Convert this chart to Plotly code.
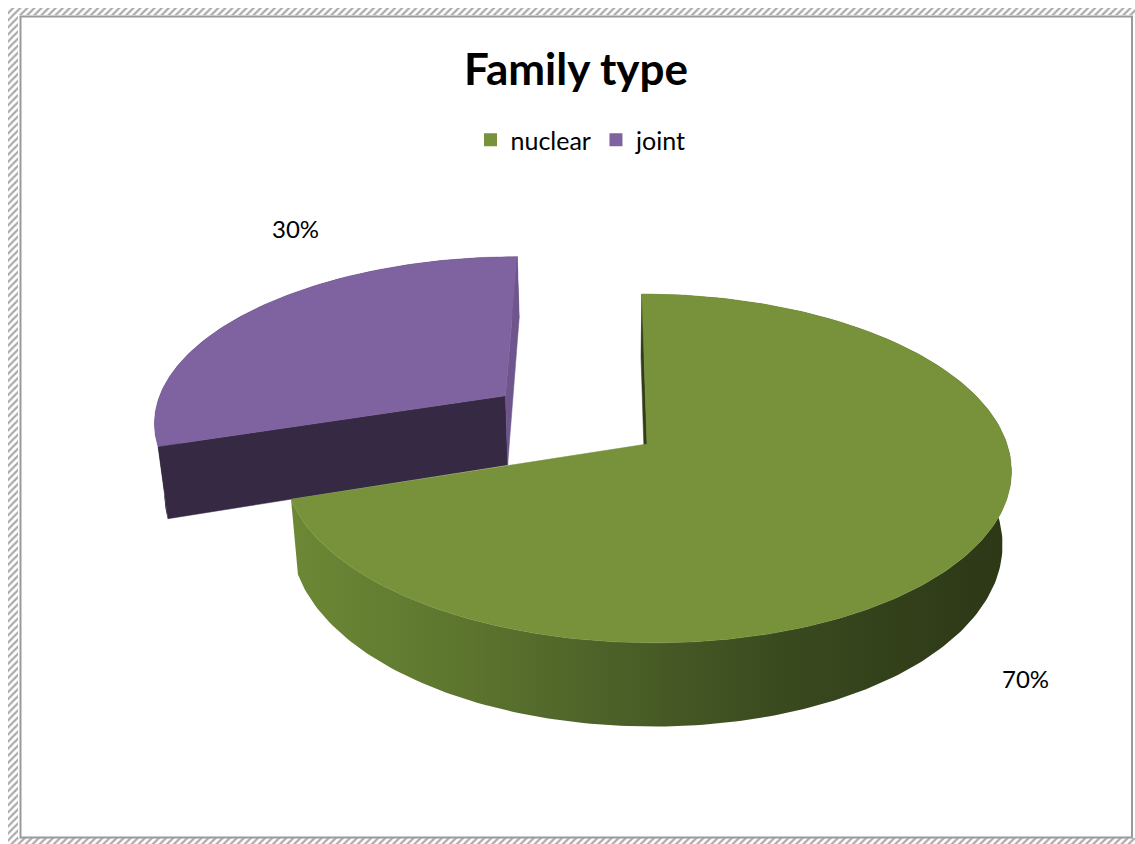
import numpy as np
import plotly.graph_objects as go

# ---- data ----
categories = ["nuclear", "joint"]
shares = [70, 30]                      # percent of families
slice_colors = ["#77923A", "#7F63A1"]
pull = [0.0, 0.5]                      # explode distance, fraction of radius

# ---- canvas and 3-D pie projection settings ----
W, H = 1135, 844
CX, CY = 647, 444      # screen position of the pie centre (top face)
RX, RY = 360, 171      # radii of the top face at the centre's depth
CAM_X = 605            # horizontal position of the viewpoint
PERSP = 0.14           # perspective strength (far side drawn smaller)
DROP = 0.022           # extra shrink of the bottom face toward the viewpoint
DEPTH = 72             # thickness of the pie
FONT = "Lato"

# side shading per slice: colours across the outer rim, left to right
side_scales = [
    [[0, "#6C8835"], [0.22, "#5E772F"], [0.43, "#4D6228"], [0.68, "#3A4A1F"], [1, "#2C3716"]],
    [[0, "#33283F"], [1, "#33283F"]],
]
label_xy = [(1025, 678), (295, 228)]


def project(u, v, z=0.0):
    """Map pie-plane coords (u right, v away from viewer, z down) to screen."""
    u = np.asarray(u, dtype=float)
    v = np.asarray(v, dtype=float)
    z = np.asarray(z, dtype=float)
    s = 1.0 / (1.0 + PERSP * v)
    x = CAM_X + (CX - CAM_X + u * RX) * s * (1.0 - DROP * z)
    y = CY - v * RY * s + z * DEPTH * s
    return x, y


def shade(hex_color, k):
    h = hex_color.lstrip("#")
    r, g, b = (int(h[i:i + 2], 16) for i in (0, 2, 4))
    return "#{:02X}{:02X}{:02X}".format(int(r * k), int(g * k), int(b * k))


def poly(x, y, **kw):
    x = list(np.append(x, x[0]))
    y = list(np.append(y, y[0]))
    return go.Scatter(x=x, y=y, mode="lines", fill="toself", hoverinfo="skip",
                      showlegend=False, **kw)


fig = go.Figure()

# decorative hatched frame along the top, left and bottom edges
frame_x, frame_y = [], []
for x0, y0, x1, y1 in [(8, 8, 1135, 15), (8, 8, 18, 844), (8, 838, 1135, 844)]:
    frame_x += [x0, x1, x1, x0, x0, None]
    frame_y += [y0, y0, y1, y1, y0, None]
fig.add_trace(go.Scatter(x=frame_x, y=frame_y, mode="lines", fill="toself",
                         line=dict(width=0), fillcolor="white",
                         fillpattern=dict(shape="/", fgcolor="#555555", bgcolor="white",
                                          size=5, solidity=0.45),
                         hoverinfo="skip", showlegend=False))

total = float(sum(shares))
bounds = np.cumsum([0] + shares) / total * 2 * np.pi
cam = np.array([(CAM_X - CX) / RX, -1.0 / PERSP])

slices = []
for i, (cat, val) in enumerate(zip(categories, shares)):
    a0, a1 = bounds[i], bounds[i + 1]
    mid = 0.5 * (a0 + a1)
    off = np.array([pull[i] * np.sin(mid), pull[i] * np.cos(mid)])
    slices.append((i, a0, a1, off))

# farther slices first so nearer ones paint over them
for i, a0, a1, off in sorted(slices, key=lambda s: -s[3][1]):
    base = slice_colors[i]
    th = np.linspace(a0, a1, 240)
    u = np.sin(th) + off[0]
    v = np.cos(th) + off[1]
    xt, yt = project(u, v, 0)
    xb, yb = project(u, v, 1)

    # outer rim
    bx = np.concatenate([xt, xb[::-1]])
    by = np.concatenate([yt, yb[::-1]])
    fig.add_trace(poly(bx, by, line=dict(width=0),
                       fillgradient=dict(type="horizontal", colorscale=side_scales[i])))

    # radial walls that face the viewer
    for ang, facing in ((a0, a0 - np.pi / 2), (a1, a1 + np.pi / 2)):
        n = np.array([np.sin(facing), np.cos(facing)])
        if np.dot(n, cam - off) <= 0:
            continue
        eu, ev = np.sin(ang) + off[0], np.cos(ang) + off[1]
        wx, wy = project([off[0], eu, eu, off[0]], [off[1], ev, ev, off[1]], [0, 0, 1, 1])
        k = 0.87 if n[0] > 0.7 else 0.42
        c = shade(base, k)
        fig.add_trace(poly(wx, wy, line=dict(width=0.5, color=c), fillcolor=c))

    # top face
    ax, ay = project(off[0], off[1], 0)
    tx = np.concatenate([[ax], xt])
    ty = np.concatenate([[ay], yt])
    fig.add_trace(poly(tx, ty, line=dict(width=0.5, color=base), fillcolor=base))

# legend entries
for cat, c in zip(categories, slice_colors):
    fig.add_trace(go.Scatter(x=[None], y=[None], mode="markers", name=cat,
                             marker=dict(symbol="square", size=13, color=c)))

# value labels
for (lx, ly), val in zip(label_xy, shares):
    fig.add_annotation(x=lx, y=ly, text=f"{val}%", showarrow=False,
                       font=dict(family=FONT, size=24, color="black"))

fig.add_shape(type="rect", x0=20.5, y0=16.5, x1=1132, y1=837.5,
              line=dict(color="#9A9A9A", width=2), layer="above")

fig.update_layout(
    width=W, height=H,
    margin=dict(l=0, r=0, t=0, b=0),
    paper_bgcolor="white", plot_bgcolor="white",
    title=dict(text="Family type", x=576 / W, xanchor="center",
               y=1 - 70 / H, yanchor="middle",
               font=dict(family=FONT, size=44, color="black", weight="bold")),
    legend=dict(orientation="h", x=581 / W, xanchor="center",
                y=1 - 140 / H, yanchor="middle",
                font=dict(family=FONT, size=25, color="black"),
                itemwidth=30, bgcolor="rgba(0,0,0,0)"),
    xaxis=dict(range=[0, W], visible=False, fixedrange=True),
    yaxis=dict(range=[H, 0], visible=False, fixedrange=True),
    showlegend=True,
)

fig.write_html("out.html")
